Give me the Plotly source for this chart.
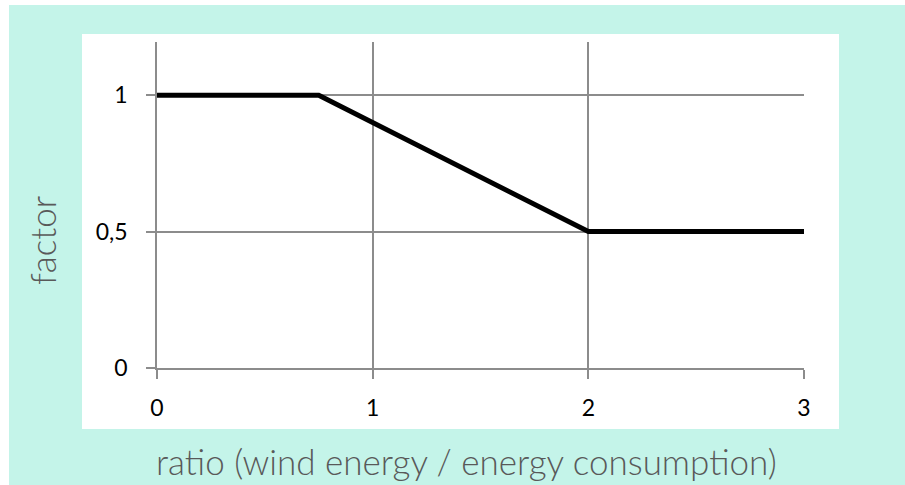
import plotly.graph_objects as go

# Piecewise-linear reduction factor vs. ratio of wind energy to consumption
ratio = [0, 0.75, 2, 3]
factor = [1, 1, 0.5, 0.5]

x_ticks = [0, 1, 2, 3]
x_labels = ["0", "1", "2", "3"]
y_ticks = [0, 0.5, 1]
y_labels = ["0", "0,5", "1"]

x_title = "ratio (wind energy / energy consumption)"
y_title = "factor"

W, H = 905, 485
L, R, T, B = 157, 101, 42, 117
pw, ph = W - L - R, H - T - B

MINT = "#C4F4E9"
GRID = "#8C8C8C"
TITLE_COLOR = "#595959"


def px_x(p):
    return (p - L) / pw


def px_y(p):
    return (H - B - p) / ph


fig = go.Figure()
fig.add_trace(go.Scatter(
    x=ratio, y=factor, mode="lines",
    line=dict(color="black", width=5),
    hoverinfo="skip", showlegend=False,
))

shapes = [
    # mint frame
    dict(type="rect", xref="paper", yref="paper", layer="below",
         x0=px_x(9), x1=px_x(W + 5), y0=px_y(H + 5), y1=px_y(5),
         fillcolor=MINT, line=dict(width=0)),
    # white chart panel
    dict(type="rect", xref="paper", yref="paper", layer="below",
         x0=px_x(82), x1=px_x(839), y0=px_y(429), y1=px_y(34),
         fillcolor="white", line=dict(width=0)),
]

title_font = dict(family="Lato", size=35, color=TITLE_COLOR, weight=300)

annotations = [
    dict(text=x_title, xref="paper", yref="paper",
         x=px_x(466), y=px_y(461), xanchor="center", yanchor="middle",
         showarrow=False, font=title_font),
    dict(text=y_title, xref="paper", yref="paper", textangle=-90,
         x=px_x(42), y=px_y(241), xanchor="center", yanchor="middle",
         showarrow=False, font=title_font),
]

axis_common = dict(
    showgrid=True, gridcolor=GRID, gridwidth=1.5,
    zeroline=False, showline=True, linecolor=GRID, linewidth=1.5,
    ticks="outside", ticklen=9, tickcolor=GRID, tickwidth=1.5,
    tickfont=dict(family="Lato", size=23, color="black"),
    fixedrange=True,
)

fig.update_layout(
    width=W, height=H,
    margin=dict(l=L, r=R, t=T, b=B),
    paper_bgcolor="white",
    plot_bgcolor="rgba(0,0,0,0)",
    shapes=shapes,
    annotations=annotations,
    font=dict(family="Lato", color="black"),
    xaxis=dict(range=[0, 3], tickvals=x_ticks, ticktext=x_labels,
               ticklabelstandoff=10, **axis_common),
    yaxis=dict(range=[0, 1.195], tickvals=y_ticks, ticktext=y_labels,
               ticklabelstandoff=14, **axis_common),
)

fig.write_html("out.html", config={"displayModeBar": False})
